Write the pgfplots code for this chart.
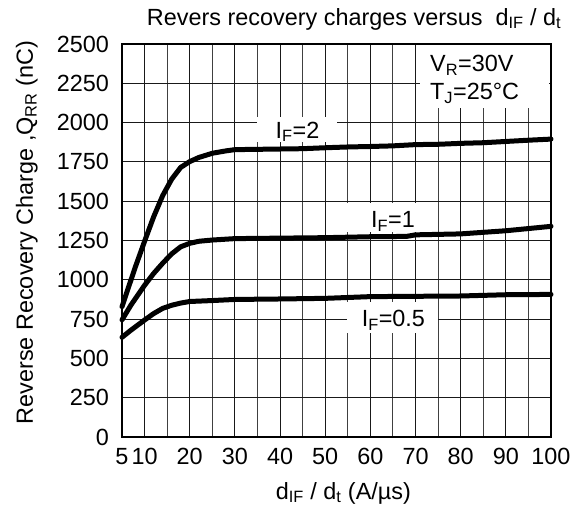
\documentclass[border=0pt]{standalone}
\usepackage{fontspec}
\setmainfont{Liberation Sans}
\usepackage{pgfplots}
\pgfplotsset{compat=1.18}

\begin{document}
\fontsize{23.5}{28}\selectfont
\begin{tikzpicture}
\useasboundingbox (-122bp,-70bp) rectangle (457bp,437bp);
\begin{axis}[
    scale only axis,
    width=429bp, height=393bp,
    xmin=5, xmax=100, ymin=0, ymax=2500,
    xtick={5,10,20,30,40,50,60,70,80,90,100},
    minor xtick={15,25,35,45,55,65,75,85,95},
    ytick={0,250,...,2500},
    grid=both,
    major grid style={black!90, line width=1bp},
    minor grid style={black!75, line width=1bp},
    axis line style={line width=1.3bp},
    tick style={draw=none},
    /pgf/number format/assume math mode=true,
    /pgf/number format/1000 sep={},
    ticklabel style={font=\fontsize{23.5}{28}\selectfont},
    yticklabel style={xshift=-5bp},
    xticklabel style={yshift=-3bp},
    xlabel={d\textsubscript{IF} / d\textsubscript{t} (A/µs)},
    ylabel={Reverse Recovery Charge ,Q\textsubscript{RR} (nC)},
    xlabel style={at={(axis description cs:0.516,-0.158)}, anchor=base},
    ylabel style={at={(axis description cs:-0.2075,0.52)}, anchor=base},
    label style={font=\fontsize{23.5}{28}\selectfont},
    clip=false,
]
\addplot[black, line width=5bp, line join=round, line cap=round] coordinates {
    (5,829) (6,915) (7,1000) (8,1085) (9,1165) (10,1245) (12,1400) (14,1535)
    (16,1640) (18,1715) (20,1752) (22,1778) (25,1805) (28,1820) (30,1828)
    (35,1830) (40,1832) (45,1834) (50,1840) (55,1845) (60,1848) (65,1852)
    (70,1860) (75,1862) (80,1868) (85,1872) (90,1880) (95,1888) (100,1895)
};
\addplot[black, line width=5bp, line join=round, line cap=round] coordinates {
    (5,745) (7,840) (10,965) (12,1040) (14,1105) (16,1165) (18,1210) (20,1232)
    (22,1245) (25,1253) (30,1262) (40,1265) (50,1268) (60,1274) (68,1276)
    (70,1286) (80,1292) (85,1302) (90,1312) (95,1326) (100,1340)
};
\addplot[black, line width=5bp, line join=round, line cap=round] coordinates {
    (5,634) (7,680) (10,744) (12,785) (14,818) (16,838) (18,852) (20,862)
    (25,868) (30,875) (40,878) (50,882) (60,893) (70,895) (80,897) (90,905)
    (100,907)
};
\fill[white] (axis cs:71,2093) rectangle (axis cs:99.6,2492);
\node[anchor=base west, inner sep=0pt] at (axis cs:73.2,2324) {V\textsubscript{R}=30V};
\node[anchor=base west, inner sep=0pt] at (axis cs:73.2,2144) {T\textsubscript{J}=25°C};
\fill[white] (axis cs:34.9,1877) rectangle (axis cs:52.6,2036);
\node[anchor=base, inner sep=0pt] at (axis cs:43.85,1902) {I\textsubscript{F}=2};
\fill[white] (axis cs:54.2,1306) rectangle (axis cs:71.6,1490);
\node[anchor=base, inner sep=0pt] at (axis cs:65.0,1334) {I\textsubscript{F}=1};
\fill[white] (axis cs:54.8,662) rectangle (axis cs:75.0,859);
\node[anchor=base, inner sep=0pt] at (axis cs:65.1,702) {I\textsubscript{F}=0.5};
\node[anchor=base] at (axis description cs:0.541,1.048) {Revers recovery charges versus\ \ d\textsubscript{IF} / d\textsubscript{t}};
\end{axis}
\end{tikzpicture}
\end{document}
